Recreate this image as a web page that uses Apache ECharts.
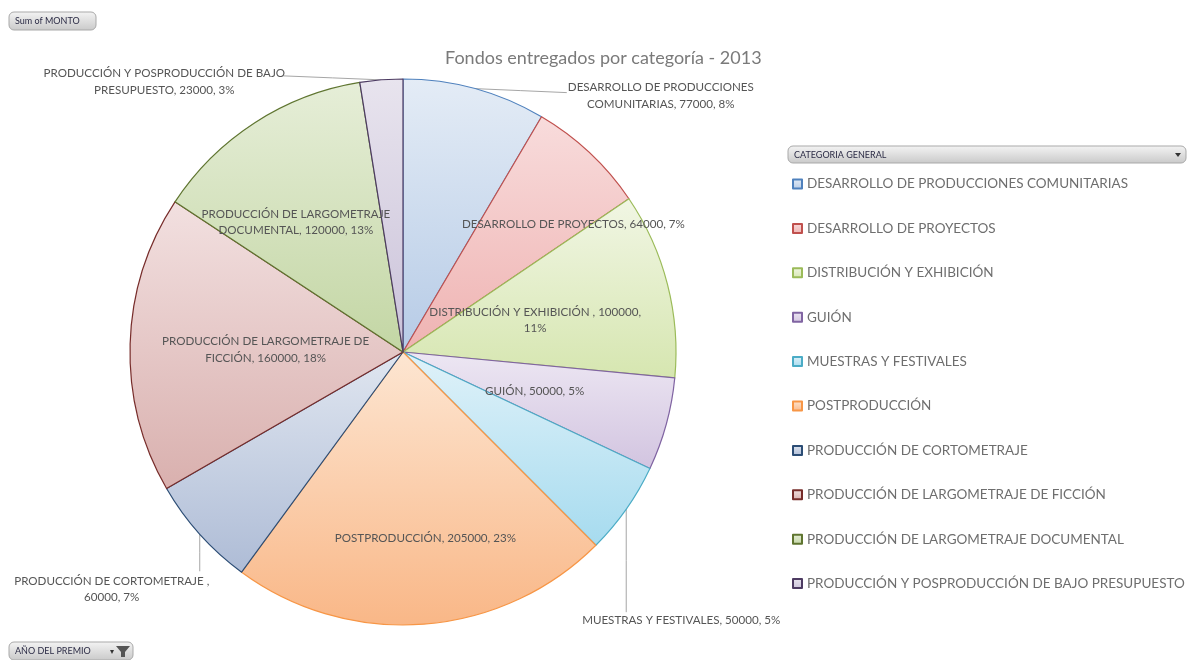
<!DOCTYPE html>
<html>
<head>
<meta charset="utf-8">
<script src="https://cdn.jsdelivr.net/npm/echarts@6/dist/echarts.min.js"></script>
<style>
  html, body { margin: 0; padding: 0; background: #ffffff; }
  #chart { width: 1187px; height: 660px; }
</style>
</head>
<body>
<div id="chart"></div>
<script>
// Fondos entregados por categoría - 2013 (Sum of MONTO by CATEGORIA GENERAL)
const categories = [
  'DESARROLLO DE PRODUCCIONES COMUNITARIAS',
  'DESARROLLO DE PROYECTOS',
  'DISTRIBUCIÓN Y EXHIBICIÓN ',
  'GUIÓN',
  'MUESTRAS Y FESTIVALES',
  'POSTPRODUCCIÓN',
  'PRODUCCIÓN DE CORTOMETRAJE ',
  'PRODUCCIÓN DE LARGOMETRAJE DE FICCIÓN',
  'PRODUCCIÓN DE LARGOMETRAJE DOCUMENTAL',
  'PRODUCCIÓN Y POSPRODUCCIÓN DE BAJO PRESUPUESTO'
];
const montos = [77000, 64000, 100000, 50000, 50000, 205000, 60000, 160000, 120000, 23000];
const percents = [8, 7, 11, 5, 5, 23, 7, 18, 13, 3];
// word count on the first line of each wrapped data label (0 = single line)
const lineBreakAfter = [3, 0, 5, 0, 0, 0, 4, 4, 3, 5];

const fillTop    = ['#e4ecf6', '#f8dcdc', '#f1f6e4', '#ede7f3', '#e0f2f9', '#fde6d2', '#e0e6f0', '#f2e0e0', '#e6eed8', '#e8e4ee'];
const fillBottom = ['#b6cbe6', '#efb3b2', '#d6e6b0', '#d2c4e0', '#a6dbef', '#f9b787', '#aebcd6', '#d9b0ae', '#c3d6a4', '#cac2d9'];
const borderColors = ['#4f81bd', '#c0504d', '#9bbb59', '#8064a2', '#4bacc6', '#f79646', '#2c4d75', '#772c2a', '#5f7530', '#4d3b62'];

// Label placement: inside labels are nudged from the mid-radius point;
// outside labels sit at an offset from the slice's outer edge, joined by a leader line.
const labelPlacement = [
  { outside: true,  dx: 186, dy: 7,   line: [92, 4] },
  { outside: false, dx: 77,  dy: -28 },
  { outside: false, dx: 0,   dy: 2 },
  { outside: false, dx: 0,   dy: 3 },
  { outside: true,  dx: 55,  dy: 111, line: [0, 103] },
  { outside: false, dx: 12,  dy: 50 },
  { outside: true,  dx: -88, dy: 55,  line: [0, 37] },
  { outside: false, dx: -1,  dy: 2 },
  { outside: false, dx: -33, dy: -15 },
  { outside: true,  dx: -217, dy: 2,  line: [-98, -4] }
];

const CX = 403, CY = 352, R = 273;
const FONT = 'Lato';

const total = montos.reduce((a, b) => a + b, 0);
const midAngles = [];
{
  let acc = 0;
  montos.forEach(v => {
    midAngles.push((acc + v / 2) / total * Math.PI * 2);
    acc += v;
  });
}

function labelText(i) {
  const words = (categories[i] + ', ' + montos[i] + ', ' + percents[i] + '%').split(/\s+/).filter(w => w.length);
  const k = lineBreakAfter[i];
  if (!k) return words.join(' ');
  return words.slice(0, k).join(' ') + '\n' + words.slice(k).join(' ');
}

const chart = echarts.init(document.getElementById('chart'), null, { renderer: 'canvas' });

function button(x, y, w, h, text, extra) {
  return {
    type: 'group', x: x, y: y, silent: true,
    children: [
      {
        type: 'rect', shape: { x: 0, y: 0, width: w, height: h, r: 5 },
        style: {
          fill: new echarts.graphic.LinearGradient(0, 0, 0, 1, [
            { offset: 0, color: '#f4f4f4' }, { offset: 1, color: '#c9c9c9' }
          ]),
          stroke: '#a9a9a9', lineWidth: 1
        }
      },
      {
        type: 'text', x: 6, y: h / 2 + 0.5,
        style: { text: text, fill: '#2b2b45', font: '9px ' + FONT, verticalAlign: 'middle' }
      }
    ].concat(extra || [])
  };
}

const option = {
  backgroundColor: '#ffffff',
  animation: false,
  title: {
    text: 'Fondos entregados por categoría - 2013',
    left: 440, top: 44,
    textStyle: { color: '#7a7a7a', fontFamily: FONT, fontSize: 18, fontWeight: 'normal' }
  },
  legend: {
    orient: 'vertical',
    left: 792, top: 176,
    padding: 0,
    icon: 'rect',
    itemWidth: 9, itemHeight: 9,
    itemGap: 28.4,
    selectedMode: false,
    textStyle: { color: '#6e6e6e', fontFamily: FONT, fontSize: 13.5, lineHeight: 16 },
    data: categories
  },
  graphic: [
    button(9, 12, 87, 18, 'Sum of MONTO'),
    button(9, 642, 124, 18, 'AÑO DEL PREMIO', [
      { type: 'text', x: 101, y: 9, style: { text: '▾', fill: '#333', font: '8px ' + FONT, verticalAlign: 'middle' } },
      { type: 'polygon', shape: { points: [[107, 4], [121, 4], [116, 10], [116, 15], [112, 15], [112, 10]] }, style: { fill: '#555' } }
    ]),
    button(788, 146, 398, 17, 'CATEGORIA GENERAL', [
      { type: 'polygon', shape: { points: [[387, 7], [393, 7], [390, 11]] }, style: { fill: '#333' } }
    ])
  ],
  series: [{
    type: 'pie',
    center: [CX, CY],
    radius: R,
    startAngle: 90,
    clockwise: true,
    avoidLabelOverlap: false,
    emphasis: { disabled: true },
    label: {
      formatter: p => labelText(p.dataIndex),
      color: '#555555',
      fontFamily: FONT,
      fontSize: 11.6,
      lineHeight: 16.5,
      align: 'center'
    },
    labelLine: { length: 10, length2: 10, lineStyle: { color: '#a6a6a6', width: 1 } },
    labelLayout: function (params) {
      const i = params.dataIndex;
      const pl = labelPlacement[i];
      const a = midAngles[i];
      const sx = Math.sin(a), sy = -Math.cos(a);
      if (pl.outside) {
        const ax = CX + R * sx, ay = CY + R * sy;
        const ex = ax + pl.line[0], ey = ay + pl.line[1];
        return {
          x: ax + pl.dx, y: ay + pl.dy,
          align: 'center', verticalAlign: 'middle',
          labelLinePoints: [[ax, ay], [(ax + ex) / 2, (ay + ey) / 2], [ex, ey]]
        };
      }
      return {
        x: CX + R * 0.5 * sx + pl.dx,
        y: CY + R * 0.5 * sy + pl.dy,
        align: 'center', verticalAlign: 'middle'
      };
    },
    data: categories.map((name, i) => ({
      name: name,
      value: montos[i],
      itemStyle: {
        color: new echarts.graphic.LinearGradient(0, 0, 0, 1, [
          { offset: 0, color: fillTop[i] }, { offset: 1, color: fillBottom[i] }
        ]),
        borderColor: borderColors[i],
        borderWidth: 1.2
      },
      label: { position: labelPlacement[i].outside ? 'outside' : 'inside' },
      labelLine: { show: !!labelPlacement[i].outside }
    }))
  }]
};

chart.setOption(option);
</script>
</body>
</html>
